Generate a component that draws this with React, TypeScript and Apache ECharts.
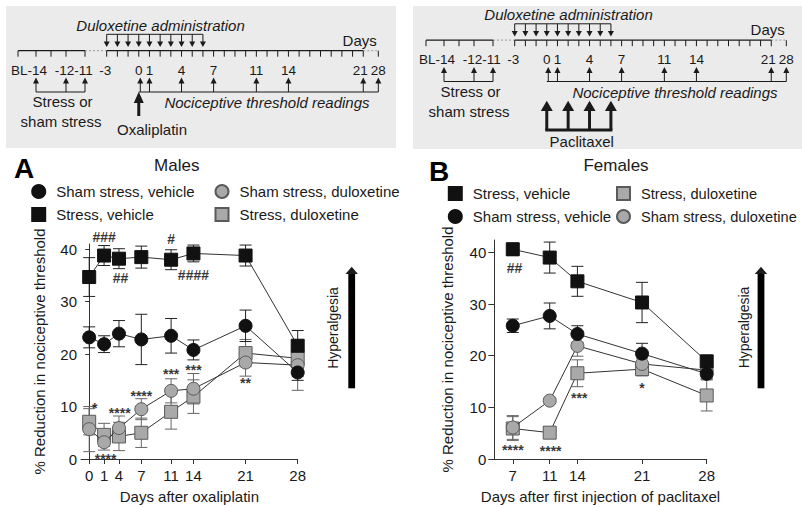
import React, { useEffect, useRef } from "react";
import * as echarts from "echarts";

const FONT = "'Liberation Sans', Arial, Helvetica, sans-serif";
const INK = "#1a1a1a";

// ---------------- Panel A: Males (oxaliplatin) ----------------
const dayLabelsA = ["0", "1", "4", "7", "11", "14", "21", "28"];
// axis position at which each reading day is drawn in the original figure (day 1 sits at 2)
const dayPosA = [0, 2, 4, 7, 11, 14, 21, 28];
const shamVehA = [23.2, 21.9, 23.9, 22.8, 23.5, 20.8, 25.4, 16.5];
const shamVehErrA = [2.0, 1.6, 2.5, 4.8, 3.3, 1.9, 3.0, 1.5];
const stressVehA = [34.7, 38.8, 38.2, 38.5, 38.0, 39.2, 38.8, 21.6];
const stressVehErrA = [3.7, 1.9, 1.9, 2.1, 1.9, 1.6, 2.0, 2.9];
const shamDulA = [5.7, 3.2, 5.9, 9.5, 13.0, 13.4, 18.4, 17.9];
const shamDulErrA = [4.3, 1.5, 2.3, 2.0, 2.3, 2.9, 2.6, 4.8];
const stressDulA = [7.1, 4.6, 4.3, 5.0, 9.0, 11.9, 20.2, 19.2];
const stressDulErrA = [2.5, 2.2, 2.7, 2.8, 3.3, 3.2, 2.6, 3.5];
const annotTextA = ["*", "****", "****", "****", "***", "***", "**", "###", "##", "#", "####"];
const annotXA = [0.75, 2.2, 4.1, 7, 11, 14, 21, 2, 4.2, 11, 14];
const annotYA = [10.3, 0.6, 9.35, 12.6, 16.8, 17.6, 15.1, 42.4, 34.5, 42.0, 35.1];

// ---------------- Panel B: Females (paclitaxel) ----------------
const daysB = [7, 11, 14, 21, 28];
const stressVehB = [40.6, 39.0, 34.4, 30.3, 18.9];
const stressVehErrB = [1.2, 3.0, 2.9, 3.9, 1.2];
const shamVehB = [25.8, 27.7, 24.2, 20.4, 16.5];
const shamVehErrB = [1.3, 2.5, 1.6, 2.0, 1.0];
const stressDulB = [5.9, 5.1, 16.6, 17.4, 12.3];
const stressDulErrB = [2.3, 0.5, 2.6, 1.3, 3.0];
const shamDulB = [6.1, 11.3, 21.9, 18.4, 17.2];
const shamDulErrB = [2.3, 0.5, 2.0, 1.0, 1.5];
const annotTextB = ["##", "****", "****", "***", "*"];
const annotXB = [7.2, 7, 11.1, 14.2, 21];
const annotYB = [37.0, 2.27, 2.07, 12.4, 14.3];

const yTicks = [0, 10, 20, 30, 40];

// ---------------- Timeline schematic ----------------
const timelineTickDays = [-15, -14, -13, -12, -11, -3, -2, -1, 0, 1, 2, 3, 4, 5, 6, 7, 8, 9, 10, 11, 12, 13, 14, 15, 16, 17, 18, 19, 20, 21, 28];
const timelineLabels = ["BL-14", "-12", "-11", "-3", "0", "1", "4", "7", "11", "14", "21", "28"];
const timelineLabelDays = [-14, -12, -11, -3, 0, 1, 4, 7, 11, 14, 21, 28];
const stressDays = [-14, -12, -11];
const duloxetineDays = [-3, -2, -1, 0, 1, 2, 3, 4, 5, 6];
const readingDays = [0, 1, 4, 7, 11, 14, 21, 28];
const oxaliplatinDays = [0];
const paclitaxelDays = [0, 2, 4, 6];

const NAMES = {
  shamVeh: "Sham stress, vehicle",
  stressVeh: "Stress, vehicle",
  shamDul: "Sham stress, duloxetine",
  stressDul: "Stress, duloxetine",
};

function tlx(d: number): number {
  const pre: Record<string, number> = { "-15": 18, "-14": 36, "-13": 51, "-12": 66, "-11": 85 };
  if (d <= -11) return pre[String(d)];
  if (d <= 21) return 106.7 + (d + 3) * 10.69;
  return 378.3;
}

const L = (x1: number, y1: number, x2: number, y2: number, w = 1, stroke = INK, dash?: number[]) => ({
  type: "line",
  shape: { x1, y1, x2, y2 },
  style: { stroke, lineWidth: w, lineDash: dash },
  silent: true,
});
const T = (text: string, x: number, y: number, extra: any = {}) => ({
  type: "text",
  x,
  y,
  silent: true,
  style: {
    text,
    fontSize: 15,
    fontFamily: FONT,
    fill: INK,
    align: "center",
    verticalAlign: "middle",
    ...extra,
  },
});
const P = (pts: number[][]) => ({ type: "polygon", shape: { points: pts }, style: { fill: INK }, silent: true });

function timeline(ox: number, oy: number, drug: "oxa" | "pac") {
  const X = (d: number) => ox + tlx(d);
  const Y = (y: number) => oy + y;
  const els: any[] = [];
  const y0 = Y(50.7);
  els.push(L(X(-15), y0, X(-11), y0, 1.2));
  els.push(L(X(-11), y0, X(-3), y0, 1.2, "#aaa", [2, 2]));
  els.push(L(X(-3), y0, X(21), y0, 1.2));
  els.push(L(X(21), y0, X(28), y0, 1.2, "#aaa", [2, 2]));
  timelineTickDays.forEach((d) => els.push(L(X(d), y0, X(d), y0 + 6, 1)));
  timelineLabels.forEach((t, i) => {
    const d = timelineLabelDays[i];
    const dx = d === -14 ? -7 : d < 0 ? -1.5 : d === 21 ? -3 : 0;
    els.push(T(t, X(d) + dx, Y(70), { fontSize: 13.5 }));
  });
  els.push(T("Days", ox + 359.7, Y(40)));
  // duloxetine administration
  els.push(T("Duloxetine administration", ox + 160.5, Y(25), { fontStyle: "italic" }));
  els.push(L(X(duloxetineDays[0]), Y(34.3), X(duloxetineDays[duloxetineDays.length - 1]), Y(34.3), 1));
  duloxetineDays.forEach((d) => {
    const x = X(d);
    els.push(L(x, Y(34.3), x, Y(42), 1));
    els.push(P([[x - 3, Y(41.5)], [x + 3, Y(41.5)], [x, Y(47)]]));
  });
  const upArrow = (x: number) => {
    els.push(L(x, Y(83), x, Y(92), 1));
    els.push(P([[x, Y(77.5)], [x - 3, Y(83.5)], [x + 3, Y(83.5)]]));
  };
  els.push(L(X(stressDays[0]), Y(92), X(stressDays[stressDays.length - 1]), Y(92), 1));
  stressDays.forEach((d) => upArrow(X(d)));
  els.push(L(X(readingDays[0]), Y(92), X(readingDays[readingDays.length - 1]), Y(92), 1));
  readingDays.forEach((d) => upArrow(X(d) + (d === 0 ? 1.5 : 0)));
  els.push(T("Stress or", ox + 62.5, Y(101.7)));
  els.push(T("sham stress", ox + 61, Y(121.7)));
  els.push(T("Nociceptive threshold readings", ox + 267, Y(102.5), { fontStyle: "italic" }));
  if (drug === "oxa") {
    oxaliplatinDays.forEach((d) => {
      const x = X(d);
      els.push(P([[x, Y(91.7)], [x - 5, Y(103)], [x + 5, Y(103)]]));
      els.push(L(x, Y(102), x, Y(116), 3));
    });
    els.push(T("Oxaliplatin", ox + 152, Y(129.3)));
  } else {
    paclitaxelDays.forEach((d) => {
      const x = X(d);
      els.push(P([[x, Y(111.2)], [x - 6, Y(121.5)], [x + 6, Y(121.5)]]));
      els.push(L(x, Y(121), x, Y(140.5), 3));
    });
    els.push(L(X(paclitaxelDays[0]) - 1.5, Y(140.5), X(paclitaxelDays[paclitaxelDays.length - 1]) + 1.5, Y(140.5), 3));
    els.push(T("Paclitaxel", ox + 173.7, Y(152.2)));
  }
  return els;
}

function hyperalgesia(x: number, textX: number, textY: number) {
  return [
    { type: "rect", shape: { x: x - 3.4, y: 273, width: 6.8, height: 115.3 }, style: { fill: "#000" }, silent: true },
    P([[x, 266.7], [x - 6.2, 274], [x + 6.2, 274]]),
    { ...T("Hyperalgesia", textX, textY, { fontSize: 14 }), rotation: Math.PI / 2 },
  ];
}

const GREY_FILL = "#a9a9a9";
const GREY_BORDER = "#5a5a5a";
const BLACK = "#111";

function lineSeries(name: string, gi: number, xs: number[], ys: number[], symbol: string, fill: string, border: string, z: number) {
  return {
    type: "line",
    name,
    xAxisIndex: gi,
    yAxisIndex: gi,
    data: xs.map((x, i) => [x, ys[i]]),
    symbol,
    symbolSize: 13,
    showSymbol: true,
    clip: false,
    silent: true,
    z,
    itemStyle: { color: fill, borderColor: border, borderWidth: 1 },
    lineStyle: { color: "#333", width: 1 },
  };
}

function errSeries(name: string, gi: number, xs: number[], ys: number[], es: number[], color: string) {
  return {
    type: "custom",
    name: name + " (SEM)",
    xAxisIndex: gi,
    yAxisIndex: gi,
    data: xs.map((x, i) => [x, ys[i], es[i]]),
    encode: { x: 0, y: 1 },
    z: 1,
    clip: false,
    silent: true,
    renderItem: (_p: any, api: any) => {
      const x = api.value(0);
      const m = api.value(1);
      const e = api.value(2);
      const top = api.coord([x, m + e]);
      const bot = api.coord([x, m - e]);
      const hw = 6;
      const st = { stroke: color, lineWidth: 1 };
      return {
        type: "group",
        children: [
          { type: "line", shape: { x1: top[0], y1: top[1], x2: bot[0], y2: bot[1] }, style: st },
          { type: "line", shape: { x1: top[0] - hw, y1: top[1], x2: top[0] + hw, y2: top[1] }, style: st },
          { type: "line", shape: { x1: bot[0] - hw, y1: bot[1], x2: bot[0] + hw, y2: bot[1] }, style: st },
        ],
      };
    },
  };
}

function annotSeries(gi: number, texts: string[], xs: number[], ys: number[]) {
  return {
    type: "scatter",
    xAxisIndex: gi,
    yAxisIndex: gi,
    symbolSize: 1,
    clip: false,
    silent: true,
    z: 6,
    itemStyle: { color: "rgba(0,0,0,0)" },
    label: { show: true, position: "inside", fontSize: 14, color: "#000", fontFamily: FONT },
    data: texts.map((t, i) => ({
      value: [xs[i], ys[i]],
      label: { formatter: t, offset: t[0] === "*" ? [0, 3] : [0, 0], fontWeight: "bold" },
    })),
  };
}

function legendCol(left: number, top: number, items: { name: string; icon: string }[], fontSize = 15) {
  return {
    orient: "vertical",
    left,
    top,
    padding: 0,
    itemWidth: 13,
    itemHeight: 13,
    itemGap: 8,
    selectedMode: false,
    data: items,
    textStyle: { fontSize, color: INK, fontFamily: FONT, padding: [0, 0, 0, 6] },
  };
}

const axisCommon = {
  axisLine: { show: true, lineStyle: { color: "#333", width: 1 } },
  splitLine: { show: false },
  nameTextStyle: { fontSize: 15, color: INK, fontFamily: FONT },
};

export default function App() {
  const ref = useRef<HTMLDivElement>(null);
  useEffect(() => {
    if (!ref.current) return;
    const chart = echarts.init(ref.current, undefined, { renderer: "svg" });
    const option: any = {
      animation: false,
      textStyle: { fontFamily: FONT },
      grid: [
        { left: 81, top: 244, width: 216.7, height: 215 },
        { left: 494.3, top: 240, width: 212.4, height: 219 },
      ],
      xAxis: [
        {
          ...axisCommon,
          gridIndex: 0,
          type: "value",
          min: -1.1,
          max: 28,
          name: "Days after oxaliplatin",
          nameLocation: "middle",
          nameGap: 30,
          axisTick: { show: true, length: 5, customValues: dayPosA, lineStyle: { color: "#333" } },
          axisLabel: {
            customValues: dayPosA,
            fontSize: 15,
            color: INK,
            margin: 9,
            formatter: (v: number) => {
              const i = dayPosA.findIndex((p) => Math.abs(p - v) < 1e-6);
              return i >= 0 ? dayLabelsA[i] : "";
            },
          },
        },
        {
          ...axisCommon,
          gridIndex: 1,
          type: "value",
          min: 5,
          max: 28,
          name: "Days after first injection of paclitaxel",
          nameLocation: "middle",
          nameGap: 30,
          axisTick: { show: true, length: 5, customValues: daysB, lineStyle: { color: "#333" } },
          axisLabel: { customValues: daysB, fontSize: 15, color: INK, margin: 9 },
        },
      ],
      yAxis: [
        {
          ...axisCommon,
          gridIndex: 0,
          type: "value",
          min: 0,
          max: 41,
          name: "% Reduction in nociceptive threshold",
          nameLocation: "middle",
          nameGap: 34,
          axisTick: { show: true, length: 4, customValues: yTicks, lineStyle: { color: "#333" } },
          axisLabel: { customValues: yTicks, fontSize: 15, color: INK, margin: 4 },
        },
        {
          ...axisCommon,
          gridIndex: 1,
          type: "value",
          min: 0,
          max: 42.4,
          name: "% Reduction in nociceptive threshold",
          nameLocation: "middle",
          nameGap: 39,
          axisTick: { show: true, length: 6, customValues: yTicks, lineStyle: { color: "#333" } },
          axisLabel: { customValues: yTicks, fontSize: 15, color: INK, margin: 8 },
        },
      ],
      legend: [
        legendCol(31.2, 184, [
          { name: NAMES.shamVeh, icon: "circle" },
          { name: NAMES.stressVeh, icon: "rect" },
        ]),
        legendCol(214.5, 184, [
          { name: NAMES.shamDul, icon: "circle" },
          { name: NAMES.stressDul, icon: "rect" },
        ]),
        legendCol(447.8, 186, [
          { name: NAMES.stressVeh, icon: "rect" },
          { name: NAMES.shamVeh, icon: "circle" },
        ]),
        legendCol(616, 186, [
          { name: NAMES.stressDul, icon: "rect" },
          { name: NAMES.shamDul, icon: "circle" },
        ], 14.6),
      ],
      series: [
        errSeries(NAMES.stressDul, 0, dayPosA, stressDulA, stressDulErrA, "#666"),
        errSeries(NAMES.shamDul, 0, dayPosA, shamDulA, shamDulErrA, "#666"),
        errSeries(NAMES.shamVeh, 0, dayPosA, shamVehA, shamVehErrA, "#222"),
        errSeries(NAMES.stressVeh, 0, dayPosA, stressVehA, stressVehErrA, "#222"),
        lineSeries(NAMES.stressDul, 0, dayPosA, stressDulA, "rect", GREY_FILL, GREY_BORDER, 2),
        lineSeries(NAMES.shamDul, 0, dayPosA, shamDulA, "circle", GREY_FILL, GREY_BORDER, 3),
        lineSeries(NAMES.shamVeh, 0, dayPosA, shamVehA, "circle", BLACK, BLACK, 4),
        lineSeries(NAMES.stressVeh, 0, dayPosA, stressVehA, "rect", BLACK, BLACK, 5),
        annotSeries(0, annotTextA, annotXA, annotYA),

        errSeries(NAMES.stressDul, 1, daysB, stressDulB, stressDulErrB, "#666"),
        errSeries(NAMES.shamDul, 1, daysB, shamDulB, shamDulErrB, "#666"),
        errSeries(NAMES.shamVeh, 1, daysB, shamVehB, shamVehErrB, "#222"),
        errSeries(NAMES.stressVeh, 1, daysB, stressVehB, stressVehErrB, "#222"),
        lineSeries(NAMES.stressDul, 1, daysB, stressDulB, "rect", GREY_FILL, GREY_BORDER, 2),
        lineSeries(NAMES.shamDul, 1, daysB, shamDulB, "circle", GREY_FILL, GREY_BORDER, 3),
        lineSeries(NAMES.shamVeh, 1, daysB, shamVehB, "circle", BLACK, BLACK, 4),
        lineSeries(NAMES.stressVeh, 1, daysB, stressVehB, "rect", BLACK, BLACK, 5),
        annotSeries(1, annotTextB, annotXB, annotYB),
      ],
      graphic: [
        { type: "rect", z: -10, silent: true, shape: { x: 6, y: 6, width: 390, height: 142 }, style: { fill: "#ebebeb" } },
        { type: "rect", z: -10, silent: true, shape: { x: 413, y: 6, width: 389, height: 143 }, style: { fill: "#ebebeb" } },
        ...timeline(0, 0, "oxa"),
        ...timeline(408, -10.5, "pac"),
        T("A", 24, 168, { fontSize: 28, fontWeight: "bold", fill: "#000" }),
        T("B", 439, 171, { fontSize: 28, fontWeight: "bold", fill: "#000" }),
        T("Males", 176.7, 165, { fontSize: 17 }),
        T("Females", 616, 165, { fontSize: 17 }),
        ...hyperalgesia(351.7, 333, 328),
        ...hyperalgesia(761, 744, 327.5),
      ],
    };
    chart.setOption(option);
    return () => chart.dispose();
  }, []);
  return <div ref={ref} style={{ position: "fixed", left: 0, top: 0, width: 802, height: 507, background: "#fff" }} />;
}
